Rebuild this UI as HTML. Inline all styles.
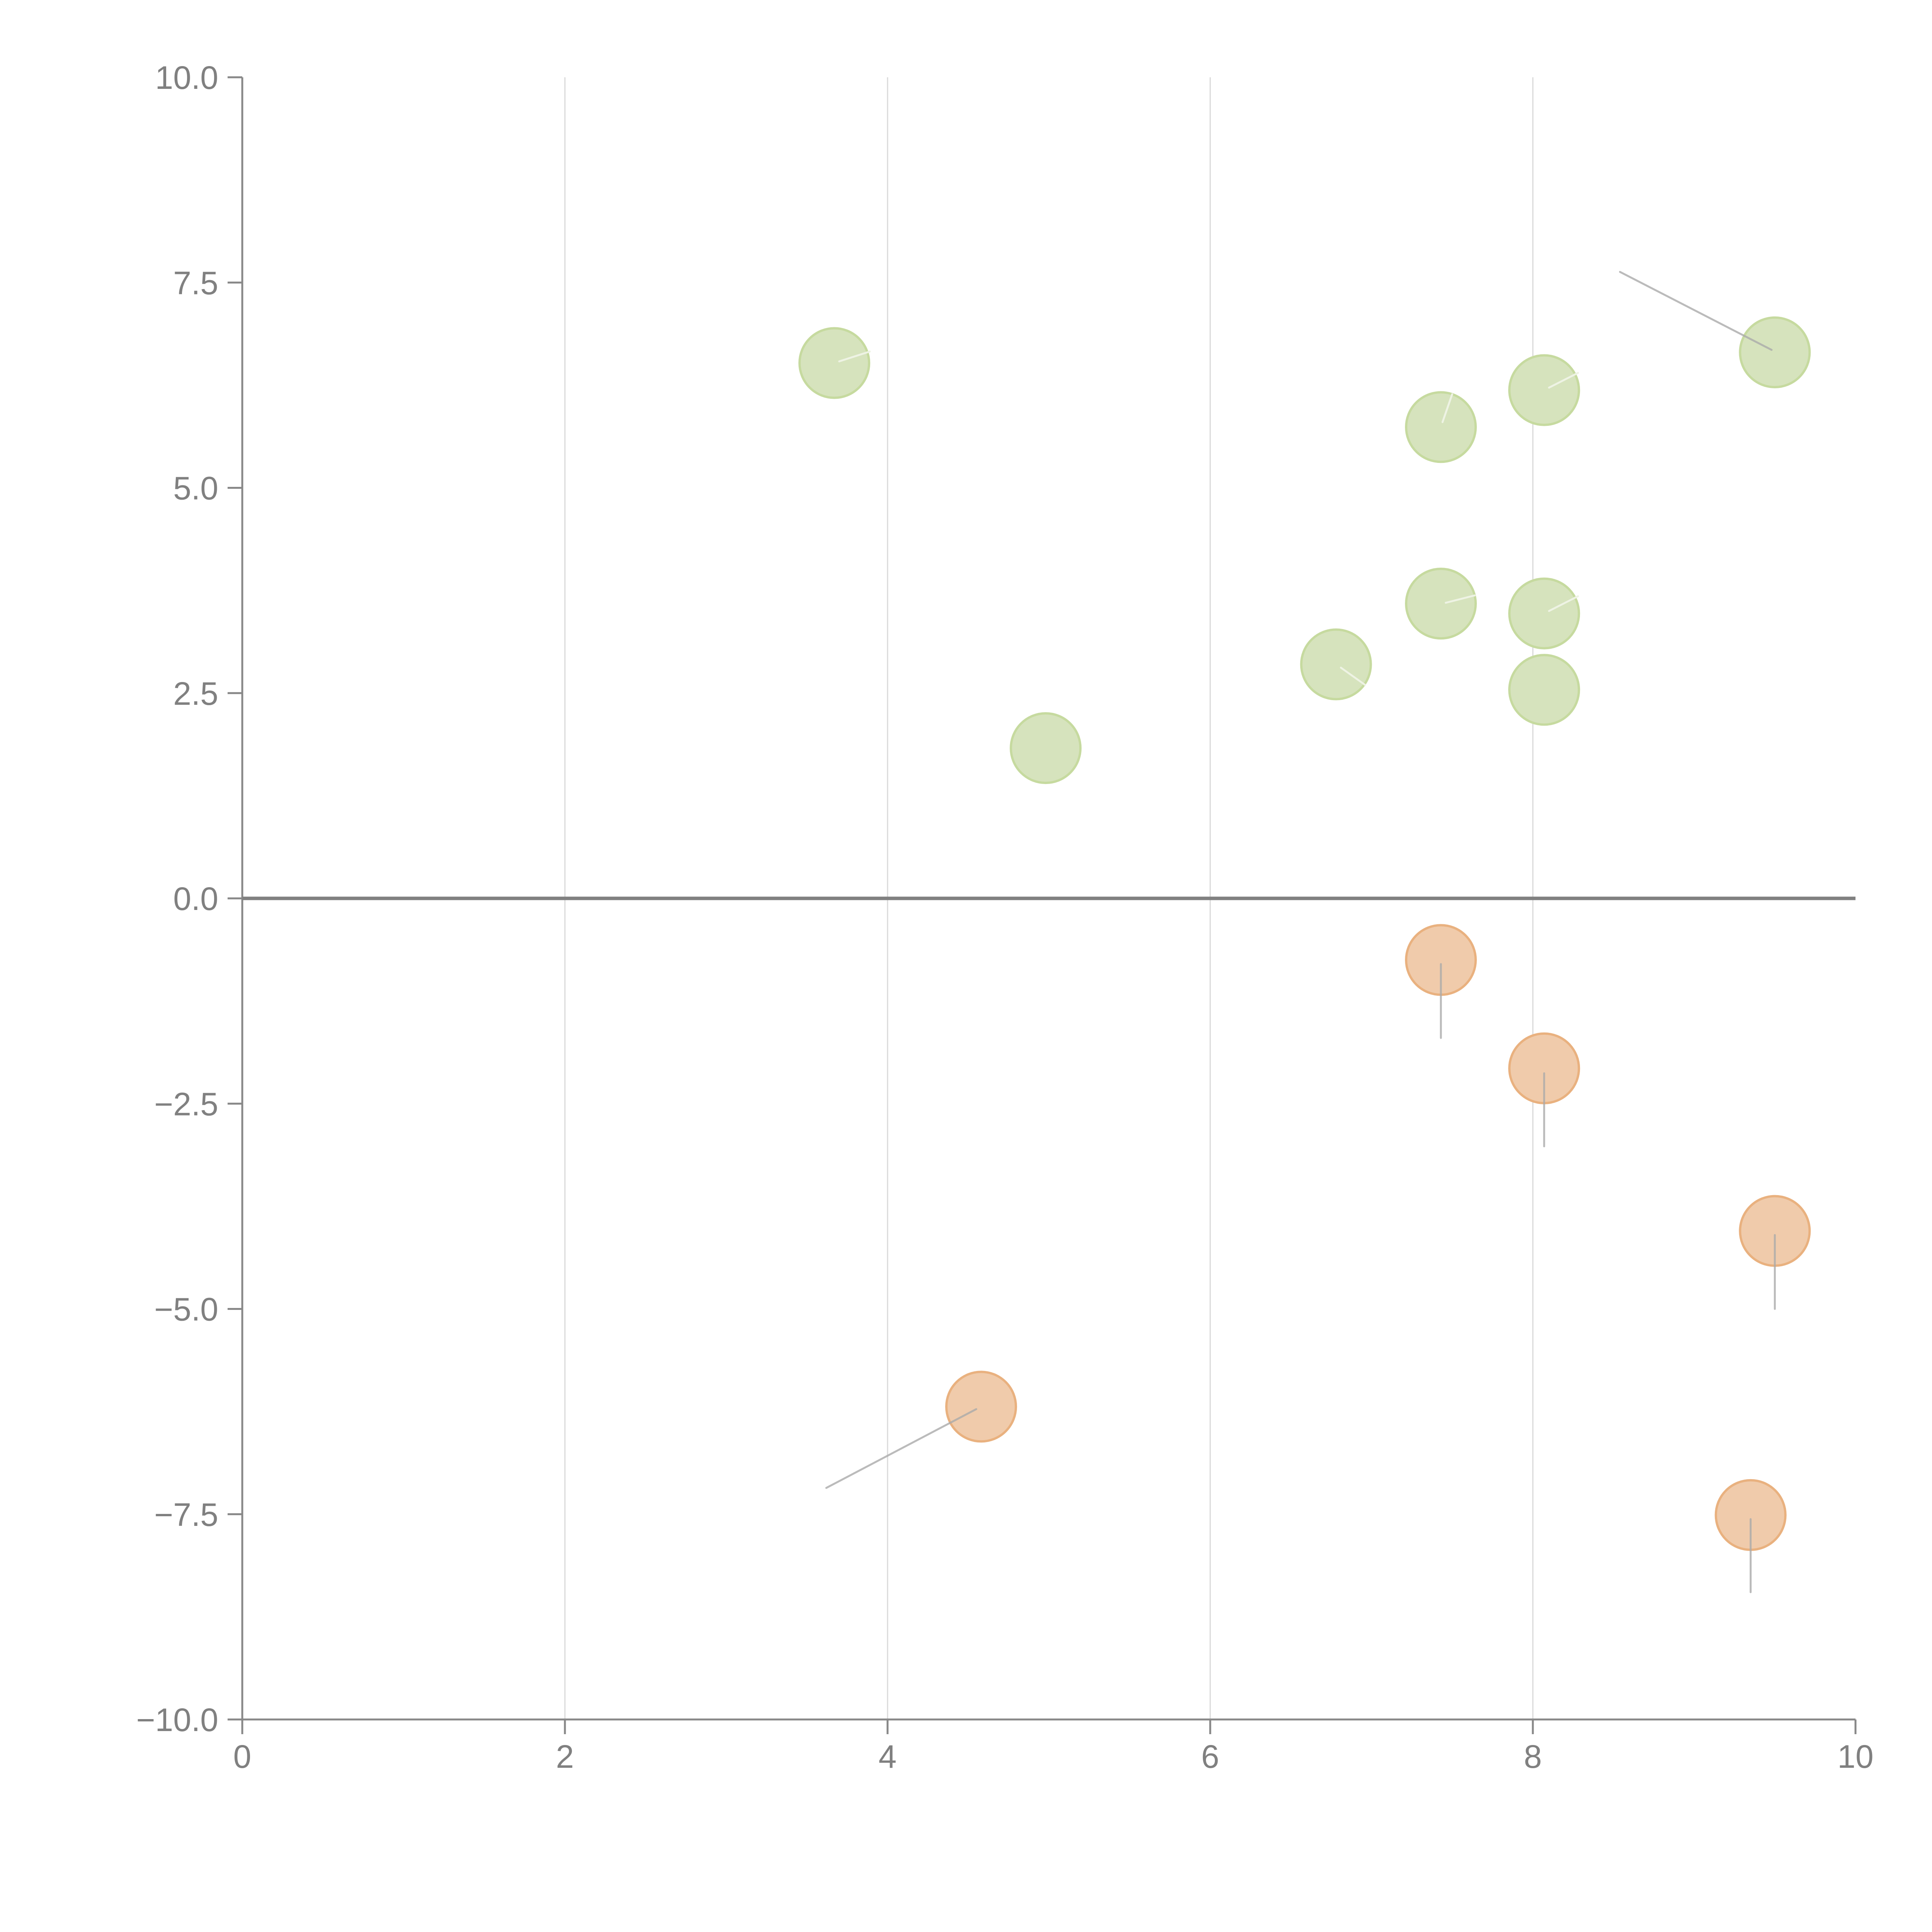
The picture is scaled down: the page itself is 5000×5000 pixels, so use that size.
<!DOCTYPE html>
<html><head><meta charset="utf-8"><style>html,body{margin:0;padding:0;background:#fff;}svg{display:block}</style></head>
<body>
<svg id="chart" width="5000" height="5000" viewBox="0 0 5000 5000" xmlns="http://www.w3.org/2000/svg" font-family="Liberation Sans, Arial, sans-serif">
<g id="grid"></g>
<g id="axes"></g>
<g id="points"></g>
<g id="leaders"></g>
<g id="inner"></g>
</svg>
<script>
const posX = [3.67, 4.98, 6.78, 7.43, 7.43, 8.07, 8.07, 8.07, 9.50];
const posY = [6.52, 1.83, 2.85, 5.74, 3.59, 6.19, 3.47, 2.54, 6.65];
const negX = [7.43, 8.07, 9.50, 4.58, 9.35];
const negY = [-0.75, -2.07, -4.05, -6.19, -7.51];
const leadFromX = [9.48, 7.43, 8.07, 9.50, 4.55, 9.35];
const leadFromY = [6.68, -0.80, -2.13, -4.10, -6.22, -7.56];
const leadToX = [8.54, 7.43, 8.07, 9.50, 3.62, 9.35];
const leadToY = [7.63, -1.70, -3.02, -5.00, -7.18, -8.45];
const innFromX = [3.70, 7.44, 8.10, 7.46, 8.10, 6.81];
const innFromY = [6.54, 5.80, 6.22, 3.60, 3.50, 2.81];
const innToX = [3.89, 7.50, 8.28, 7.64, 8.28, 6.96];
const innToY = [6.66, 6.14, 6.40, 3.69, 3.68, 2.60];
const xTicks = [0, 2, 4, 6, 8, 10];
const yTicks = [10, 7.5, 5, 2.5, 0, -2.5, -5, -7.5, -10];
const yTickLabels = ["10.0","7.5","5.0","2.5","0.0","\u22122.5","\u22125.0","\u22127.5","\u221210.0"];

const X0 = 627, XS = 417.5, YT = 200, YS = 212.5;
const sx = v => X0 + v * XS;
const sy = v => YT + (10 - v) * YS;
const NS = "http://www.w3.org/2000/svg";
function mk(tag, attrs, parent) {
  const e = document.createElementNS(NS, tag);
  for (const k in attrs) e.setAttribute(k, attrs[k]);
  parent.appendChild(e);
  return e;
}
const grid = document.getElementById('grid');
const axes = document.getElementById('axes');
xTicks.forEach(t => {
  if (t > 0 && t < 10) {
    const g = mk('line', {x1: sx(t), x2: sx(t), y1: sy(10), y2: sy(-10), stroke: '#d9d9d9', 'stroke-width': 3}, grid);
    
    
  }
  const tk = mk('line', {x1: sx(t), x2: sx(t), y1: sy(-10), y2: sy(-10) + 38, stroke: '#888', 'stroke-width': 5}, axes);
  
  
  const lb = mk('text', {x: sx(t), y: sy(-10) + 125, 'text-anchor': 'middle', 'font-size': 84, fill: '#808080'}, axes);
  lb.textContent = String(t);
  
  
});
yTicks.forEach((t, i) => {
  const tk = mk('line', {x1: X0 - 38, x2: X0, y1: sy(t), y2: sy(t), stroke: '#888', 'stroke-width': 5}, axes);
  
  
  const lb = mk('text', {x: X0 - 62, y: sy(t) + 30, 'text-anchor': 'end', 'font-size': 84, fill: '#808080'}, axes);
  lb.textContent = yTickLabels[i];
  
  
});
const ya = mk('line', {x1: X0, x2: X0, y1: sy(10), y2: sy(-10), stroke: '#888', 'stroke-width': 5}, axes);


const xa = mk('line', {x1: X0, x2: sx(10), y1: sy(-10), y2: sy(-10), stroke: '#888', 'stroke-width': 5}, axes);


const zl = mk('line', {x1: X0, x2: sx(10), y1: sy(0), y2: sy(0), stroke: '#808080', 'stroke-width': 9}, axes);



const pts = document.getElementById('points');
posX.forEach((v, i) => {
  const c = mk('circle', {cx: sx(v), cy: sy(posY[i]), r: 90, fill: '#d6e3bd', stroke: '#c6da9f', 'stroke-width': 6}, pts);
  
  
});
negX.forEach((v, i) => {
  const c = mk('circle', {cx: sx(v), cy: sy(negY[i]), r: 90, fill: '#f0cbab', stroke: '#e9b17f', 'stroke-width': 6}, pts);
  
  
});
const leaders = document.getElementById('leaders');
leadFromX.forEach((v, i) => {
  const l = mk('line', {x1: sx(v), y1: sy(leadFromY[i]), x2: sx(leadToX[i]), y2: sy(leadToY[i]), stroke: '#aaa', 'stroke-opacity': 0.8, 'stroke-width': 5, 'stroke-linecap': 'round'}, leaders);
  
  
});
const inner = document.getElementById('inner');
innFromX.forEach((v, i) => {
  const l = mk('line', {x1: sx(v), y1: sy(innFromY[i]), x2: sx(innToX[i]), y2: sy(innToY[i]), stroke: '#eef3e4', 'stroke-width': 5, 'stroke-linecap': 'round'}, inner);
  
  
});
</script>
</body></html>
